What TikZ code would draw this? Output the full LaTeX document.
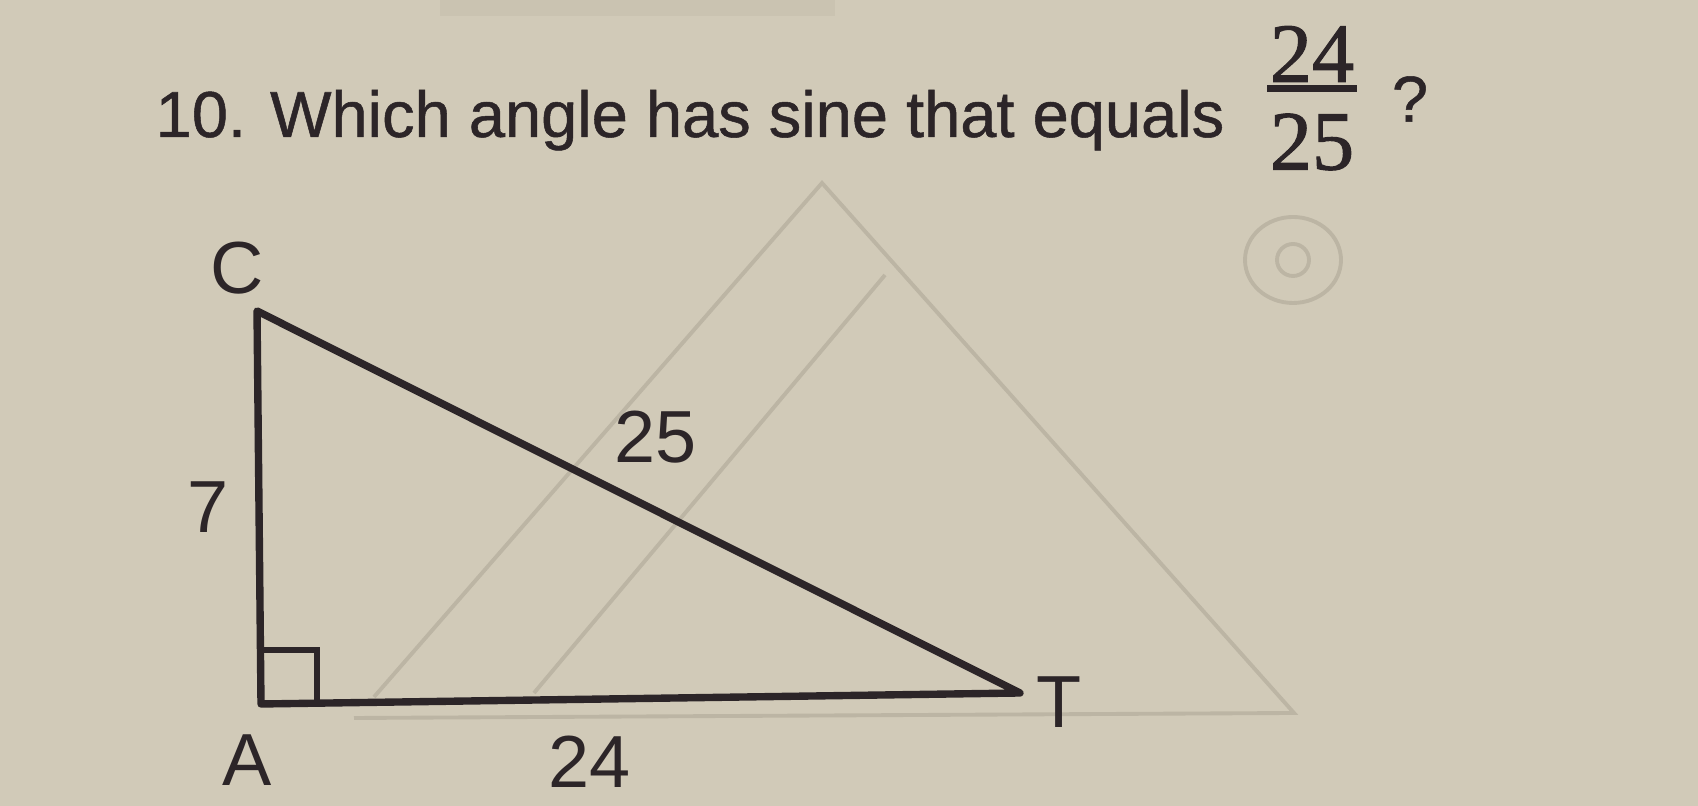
\documentclass[tikz,border=0pt]{standalone}
\usepackage{fontspec}
\setmainfont{Liberation Sans}
\newfontfamily\heavyfont[FakeBold=0.8]{Liberation Sans}
\newfontfamily\fracfont[FakeBold=1.2]{Liberation Serif}
\definecolor{paper}{RGB}{209,202,184}
\definecolor{ink}{RGB}{44,37,40}
\definecolor{pencil}{RGB}{188,181,164}
\tikzset{
    side/.style={ink, line width=2.1pt, line join=round},
    tickmark/.style={ink, line width=1.7pt},
    erased/.style={pencil, line width=1.1pt},
    lbl/.style={text=ink, inner sep=0pt, font=\fontsize{21}{25}\selectfont},
    quest/.style={text=ink, inner sep=0pt, font={\heavyfont\fontsize{18.5}{22}\selectfont}},
    frac/.style={text=ink, inner sep=0pt, font={\fracfont\fontsize{24}{29}\selectfont}},
}
\begin{document}
\begin{tikzpicture}[x=0.1mm, y=-0.1mm]
    \fill[paper] (0, 0) rectangle (1698, 806);
    \useasboundingbox (0, 0) rectangle (1698, 806);
    \fill[pencil!35!paper] (440, 0) rectangle (835, 16);
    \coordinate (P) at(822, 183);
    \coordinate (Q) at(374, 697);
    \coordinate (R) at(1294, 713);
    \coordinate (S) at(354, 718);
    \coordinate (U) at(885, 275);
    \coordinate (V) at(534, 693);
    \draw[erased] (Q) -- (P) -- (R) -- (S);
    \draw[erased] (U) -- (V);
    \coordinate (O) at(1293, 260);
    \draw[erased] (O) ellipse [x radius=4.8mm, y radius=4.3mm];
    \draw[erased] (O) circle [radius=1.6mm];
    \coordinate (C) at(257, 311);
    \coordinate (A) at(261, 704);
    \coordinate (T) at(1020, 693);
    \coordinate (Ra) at(261, 650);
    \coordinate (Rb) at(317, 650);
    \coordinate (Rc) at(317, 703);
    \draw[side] (C) -- (A) -- (T) -- cycle;
    \draw[tickmark] (Ra) -- (Rb) -- (Rc);
    \node[lbl] (Cl) at(237, 268) {C};
    \node[lbl] (Al) at(247, 760) {A};
    \node[lbl] (Tl) at(1059, 702) {T};
    \node[lbl] (CA) at(208, 507) {7};
    \node[lbl] (CT) at(656, 437) {25};
    \node[lbl] (AT) at(590, 762) {24};
    \node[quest, anchor=base west] (q) at(155, 137) {10. Which angle has sine that equals};
    \node[frac] (num) at(1312, 54) {24};
    \node[frac] (den) at(1312, 142) {25};
    \coordinate (b1) at(1267, 89);
    \coordinate (b2) at(1357, 89);
    \draw[ink, line width=2pt] (b1) -- (b2);
    \node[quest] (qm) at(1410, 99) {?};
\end{tikzpicture}
\end{document}
